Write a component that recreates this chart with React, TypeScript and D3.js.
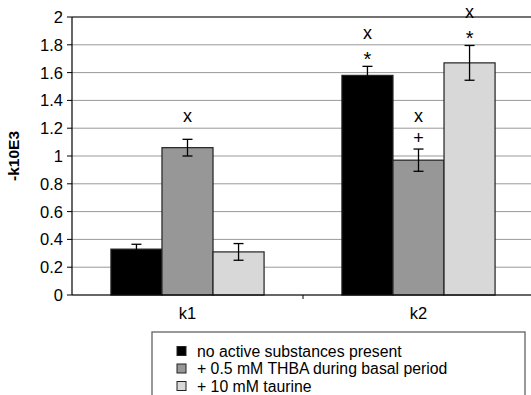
import React from "react";
import * as d3 from "d3";

const categories = ["k1", "k2"];
const seriesNames = [
  "no active substances present",
  "+ 0.5 mM THBA during basal period",
  "+ 10 mM taurine",
];
const seriesColors = ["#000000", "#979797", "#d8d8d8"];
const k1Values = [0.33, 1.06, 0.31];
const k2Values = [1.58, 0.97, 1.67];
const k1Errors = [0.035, 0.06, 0.06];
const k2Errors = [0.065, 0.08, 0.125];
const k1Marks = [[], ["x"], []];
const k2Marks = [["x", "*"], ["x", "+"], ["x", "*"]];
const yTicks = [0, 0.2, 0.4, 0.6, 0.8, 1, 1.2, 1.4, 1.6, 1.8, 2];
const yTitle = "-k10E3";

const values = [k1Values, k2Values];
const errors = [k1Errors, k2Errors];
const marks = [k1Marks, k2Marks];

const W = 531;
const H = 395;
const left = 72;
const right = 534;
const top = 17;
const bottom = 295;
const font = "'Liberation Sans', Arial, Helvetica, sans-serif";

export default function App() {
  const x0 = d3.scaleBand().domain(categories).range([left, right]).paddingInner(0).paddingOuter(0);
  const groupW = x0.bandwidth() * 0.663;
  const x1 = d3
    .scaleBand()
    .domain(seriesNames)
    .range([(x0.bandwidth() - groupW) / 2, (x0.bandwidth() + groupW) / 2])
    .padding(0);
  const y = d3.scaleLinear().domain([0, 2]).range([bottom, top]);
  const fmt = (v: number) => (v === 0 ? "0" : d3.format("~g")(v));

  const glyphShift: Record<string, number> = { x: 4.5, "*": 11, "+": 6 };
  const glyphSize: Record<string, number> = { x: 18, "*": 20, "+": 18 };

  return (
    <svg
      width={W}
      height={H}
      style={{ position: "absolute", left: 0, top: 0, background: "#fff" }}
      fontFamily={font}
    >
      {yTicks.map((t) => (
        <line
          key={"g" + t}
          x1={left}
          x2={right}
          y1={y(t)}
          y2={y(t)}
          stroke={t === 2 ? "#444" : "#999"}
          strokeWidth={t === 2 ? 1.3 : 1}
        />
      ))}
      {categories.map((c, ci) =>
        seriesNames.map((s, si) => {
          const bx = (x0(c) as number) + (x1(s) as number);
          const bw = x1.bandwidth();
          const v = values[ci][si];
          const e = errors[ci][si];
          const cx = bx + bw / 2;
          const errTop = y(v + e);
          const ms = marks[ci][si];
          return (
            <g key={c + s}>
              <rect
                x={bx}
                y={y(v)}
                width={bw}
                height={y(0) - y(v)}
                fill={seriesColors[si]}
                stroke="#222"
                strokeWidth={1.2}
              />
              <g stroke="#000" strokeWidth={1.3}>
                <line x1={cx} x2={cx} y1={y(v + e)} y2={y(v - e)} />
                <line x1={cx - 5} x2={cx + 5} y1={y(v + e)} y2={y(v + e)} />
                <line x1={cx - 5} x2={cx + 5} y1={y(v - e)} y2={y(v - e)} />
              </g>
              {ms
                .slice()
                .reverse()
                .map((m, mi) => {
                  const first = ms.length === 1 && m === "x" ? 22 : 11;
                  const cy = errTop - first - mi * 21;
                  return (
                    <text
                      key={mi}
                      x={cx}
                      y={cy + glyphShift[m]}
                      textAnchor="middle"
                      fontSize={glyphSize[m]}
                      fill="#000"
                    >
                      {m}
                    </text>
                  );
                })}
            </g>
          );
        })
      )}
      <line x1={left} x2={left} y1={top} y2={bottom} stroke="#000" strokeWidth={1.2} />
      <line x1={left} x2={right} y1={bottom} y2={bottom} stroke="#000" strokeWidth={1.2} />
      {yTicks.map((t) => (
        <g key={"t" + t}>
          <line x1={left - 5} x2={left} y1={y(t)} y2={y(t)} stroke="#000" />
          <text
            x={left - 9}
            y={y(t)}
            dy="0.36em"
            textAnchor="end"
            fontSize={16.5}
            fill="#000"
          >
            {fmt(t)}
          </text>
        </g>
      ))}
      {categories.slice(1).map((c) => (
        <line
          key={"ct" + c}
          x1={x0(c) as number}
          x2={x0(c) as number}
          y1={bottom}
          y2={bottom + 4}
          stroke="#000"
        />
      ))}
      {categories.map((c) => (
        <text
          key={"cl" + c}
          x={(x0(c) as number) + x0.bandwidth() / 2}
          y={319}
          textAnchor="middle"
          fontSize={16.5}
          fill="#000"
        >
          {c}
        </text>
      ))}
      <text
        transform={`translate(19,${(top + bottom) / 2}) rotate(-90)`}
        textAnchor="middle"
        fontSize={15.5}
        fontWeight="bold"
        fill="#000"
      >
        {yTitle}
      </text>
      <rect x={152} y={332} width={373} height={80} fill="#fff" stroke="#555" strokeWidth={1.2} />
      {seriesNames.map((s, si) => (
        <g key={"lg" + s} transform={`translate(177,${351 + si * 17.5})`}>
          <rect x={0} y={-4.5} width={9} height={9} fill={seriesColors[si]} stroke="#222" strokeWidth={1} />
          <text x={20} y={0} dy="0.36em" fontSize={15.8} fill="#000">
            {s}
          </text>
        </g>
      ))}
    </svg>
  );
}
